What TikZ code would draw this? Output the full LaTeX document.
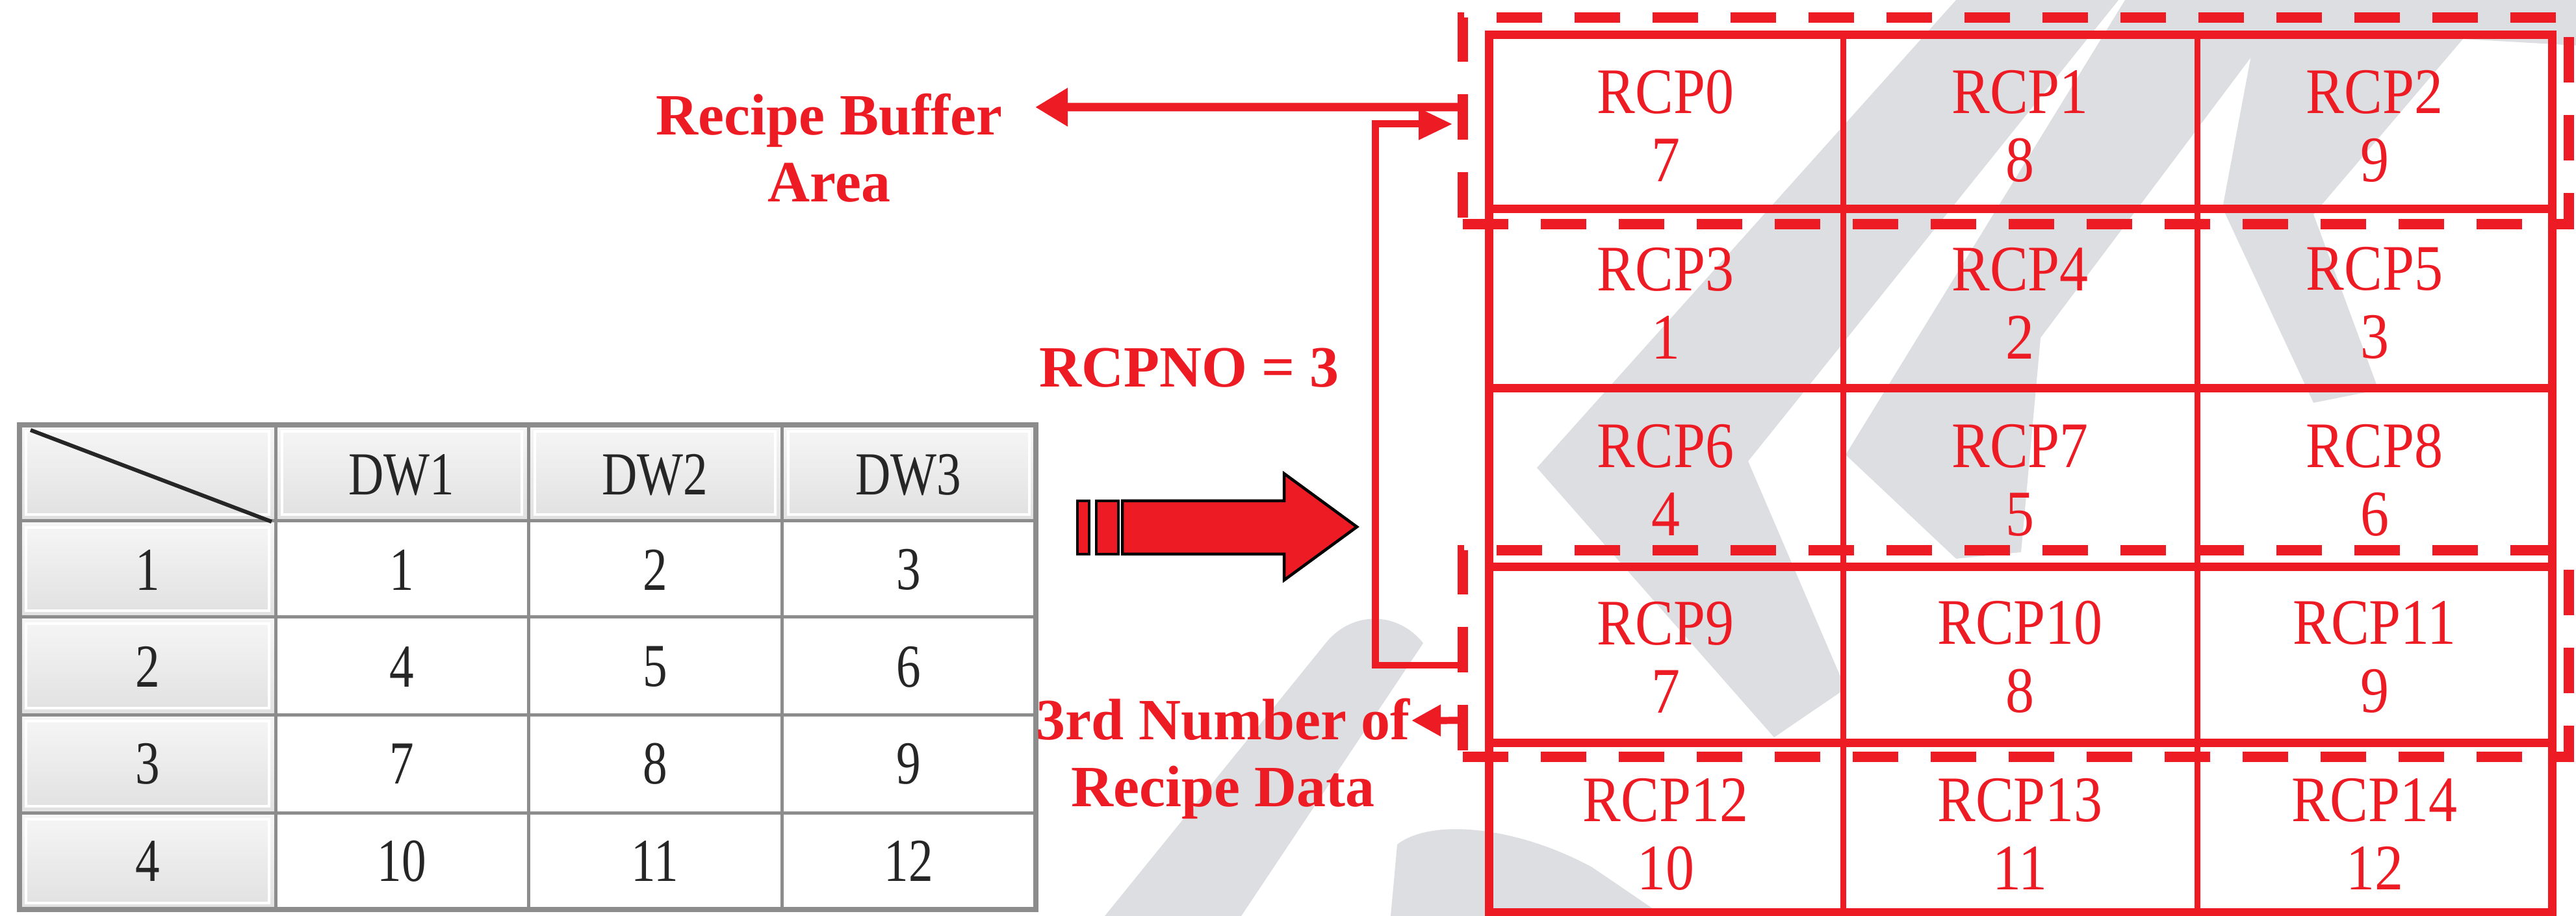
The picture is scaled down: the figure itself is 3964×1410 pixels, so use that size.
\documentclass[tikz,border=0pt]{standalone}
\usepackage{fontspec}
\setmainfont{Liberation Serif}
\newfontfamily\rcpfont[FakeStretch=0.88]{Liberation Serif}
\newfontfamily\tabfont[FakeStretch=0.8]{Liberation Serif}
\usetikzlibrary{arrows.meta}
\definecolor{rred}{RGB}{237,28,36}
\definecolor{wm}{RGB}{221,222,225}
\definecolor{tabline}{RGB}{140,140,140}
\begin{document}
\begin{tikzpicture}[x=0.1pt,y=-0.1pt,
  cell/.style={font=\rcpfont\fontsize{10pt}{10.5pt}\selectfont, text=rred, align=center, inner sep=0pt},
  lbl/.style={font=\bfseries\fontsize{9pt}{10.3pt}\selectfont, text=rred, align=center, inner sep=0pt},
  tabtxt/.style={font=\tabfont\fontsize{9.4pt}{10pt}\selectfont, text=black!85, inner sep=0pt},
  hdrcell/.style={top color=gray!7, bottom color=gray!24},
  dbox/.style={draw=rred, line width=1.6pt, dash pattern=on 7pt off 5pt, inner sep=0pt},
  conn/.style={draw=rred, line width=1.1pt},
]
\useasboundingbox (0,0) rectangle (3964,1410);
\fill[white] (0,0) rectangle (3964,1410);

% watermark
\fill[wm] (3010,0) -- (3260,0) -- (2690,710) -- (2840,1060) -- (2730,1135) -- (2365,720) -- cycle;
\fill[wm] (3270,0) -- (3530,0) -- (3140,520) -- (3110,850) -- (3010,860) -- (2840,700) -- cycle;
\fill[wm] (3480,0) -- (3964,0) -- (3964,70) -- (3790,60) -- (3560,330) -- (3660,600) -- (3560,620) -- (3420,320) -- cycle;
\fill[wm] (1700,1410) -- (2040,990) .. controls (2080,940) and (2150,940) .. (2190,990) -- (1910,1410) -- cycle;
\fill[wm] (2140,1410) -- (2150,1300) .. controls (2200,1260) and (2330,1270) .. (2450,1335) -- (2560,1410) -- cycle;

% left table
\foreach \xa/\xb in {30/424,424/813,813/1203,1203/1594}
  \shade[hdrcell] (\xa,654) rectangle (\xb,802);
\foreach \ya/\yb in {802/950,950/1100,1100/1251,1251/1400}
  \shade[hdrcell] (30,\ya) rectangle (424,\yb);
\foreach \xa/\xb in {30/424,424/813,813/1203,1203/1594}
  \draw[white, line width=0.4pt] (\xa+10,664) rectangle (\xb-10,792);
\foreach \ya/\yb in {802/950,950/1100,1100/1251,1251/1400}
  \draw[white, line width=0.4pt] (40,\ya+10) rectangle (414,\yb-10);
\foreach \x in {424,813,1203}
  \draw[tabline, line width=0.5pt] (\x,654) -- (\x,1400);
\foreach \y in {802,950,1100,1251}
  \draw[tabline, line width=0.5pt] (30,\y) -- (1594,\y);
\draw[tabline, line width=0.8pt] (30,654) rectangle (1594,1400);
\draw[black!85, line width=0.6pt] (47,662) -- (418,803);

\foreach \t [count=\i] in {DW1,DW2,DW3}
  \node[tabtxt] (th\i) at ({618+390*(\i-1)},731) {\t};
\foreach \r in {1,...,4} {
  \node[tabtxt] (rh\r) at (227,{877+149.5*(\r-1)}) {\r};
  \foreach \c in {1,2,3} {
    \pgfmathtruncatemacro\v{3*(\r-1)+\c}
    \node[tabtxt] (d\r\c) at ({618+390*(\c-1)},{877+149.5*(\r-1)}) {\v};
  }
}

% block arrow
\draw[fill=rred, draw=black, line width=0.45pt]
  (1727,771) -- (1976,771) -- (1976,729) -- (2088,811) -- (1976,893) -- (1976,853) -- (1727,853) -- cycle;
\draw[fill=rred, draw=black, line width=0.45pt] (1658,771) rectangle (1676,853);
\draw[fill=rred, draw=black, line width=0.45pt] (1687,771) rectangle (1721,853);

% right grid
\draw[rred, line width=1.3pt] (2291,54) rectangle (3927,1404);
\foreach \y in {322,598,873,1143}
  \draw[rred, line width=1.3pt] (2291,\y) -- (3927,\y);
\foreach \x in {2836,3381}
  \draw[rred, line width=0.9pt] (\x,54) -- (\x,1404);

\foreach \n/\a [count=\k from 0] in {0/7,1/8,2/9,3/1,4/2,5/3,6/4,7/5,8/6,9/7,10/8,11/9,12/10,13/11,14/12} {
  \pgfmathtruncatemacro\row{int(\k/3)}
  \pgfmathtruncatemacro\col{mod(\k,3)}
  \node[cell] (c\n) at ({2563+545.5*\col},{194+272.5*\row}) {RCP\n\\\a};
}

% dashed areas
\node[dbox, minimum width=170.2pt, minimum height=31.8pt] (buf) at (3102,186) {};
\node[dbox, minimum width=170.2pt, minimum height=31.8pt] (sel) at (3102,1006) {};

% labels
\node[lbl] (rbl) at (1276,228) {Recipe Buffer\\Area};
\node[lbl] (rcpno) at (1830,566) {RCPNO = 3};
\node[lbl] (third) at (1882,1168) {3rd Number of\\Recipe Data};

% connectors
\coordinate (rbtip) at (1593,165);
\coordinate (thirdtip) at (2172,1109);
\draw[rred, line width=1.3pt, -{Triangle[length=5pt,width=5.6pt]}] ([yshift=2.1pt]buf.west) -- (rbtip);
\draw[conn, -{Triangle[length=5.2pt,width=4.6pt]}] ([yshift=-1.8pt]sel.west) -- ++(-12.7pt,0) |- ([yshift=-0.5pt,xshift=-0.8pt]buf.west);
\draw[conn, -{Triangle[length=4.5pt,width=4.6pt]}] ([yshift=-10.3pt]sel.west) -- (thirdtip);
\end{tikzpicture}
\end{document}
